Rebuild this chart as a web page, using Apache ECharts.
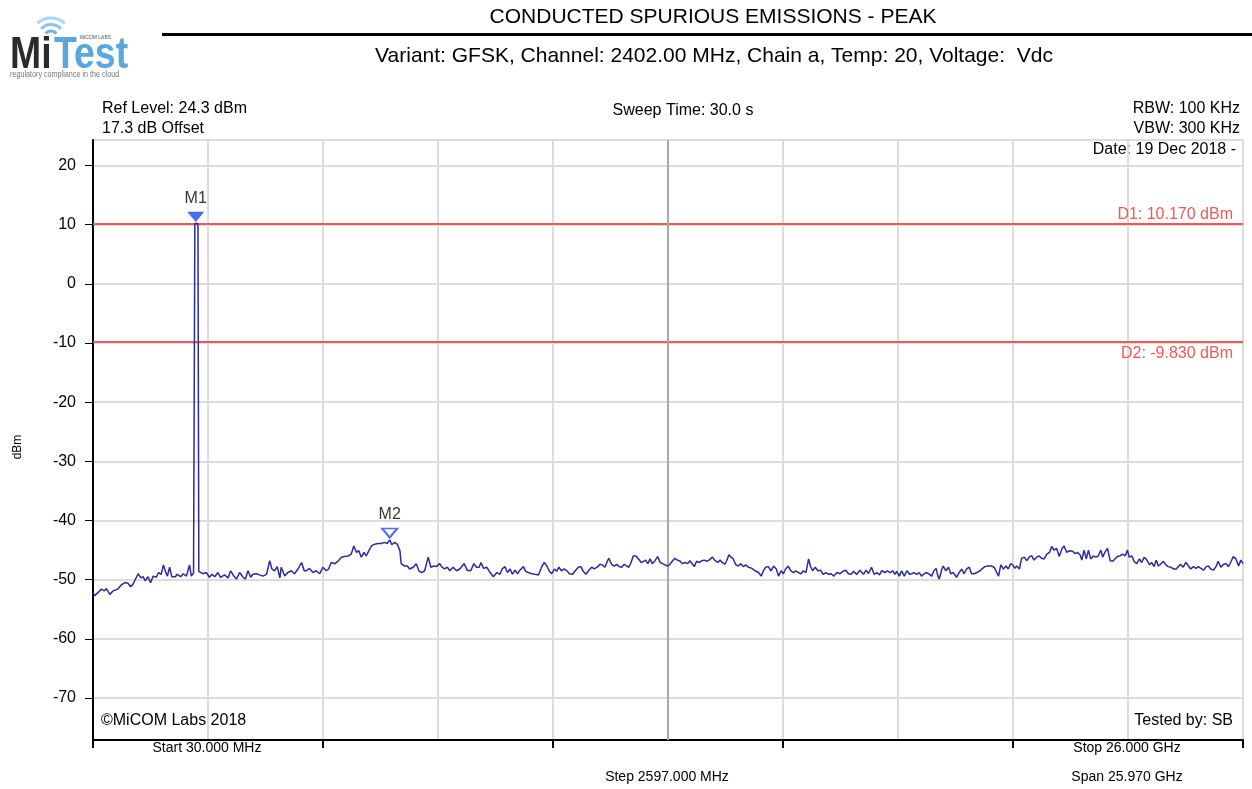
<!DOCTYPE html>
<html><head><meta charset="utf-8">
<script src="https://cdn.jsdelivr.net/npm/echarts@6/dist/echarts.min.js"></script>
<style>html,body{margin:0;padding:0;background:#fff}#chart{width:1252px;height:789px}</style>
</head><body><div id="chart"></div>
<script>
// ---------- texts ----------
const titleText = 'CONDUCTED SPURIOUS EMISSIONS - PEAK';
const subtitleText = 'Variant: GFSK, Channel: 2402.00 MHz, Chain a, Temp: 20, Voltage:  Vdc';
const infoLeft = ['Ref Level: 24.3 dBm', '17.3 dB Offset'];
const infoCenter = 'Sweep Time: 30.0 s';
const infoRight = ['RBW: 100 KHz', 'VBW: 300 KHz', 'Date: 19 Dec 2018 -'];
const footLeft = '\u00A9MiCOM Labs 2018';
const footRight = 'Tested by: SB';
const startLabel = 'Start 30.000 MHz';
const stopLabel = 'Stop 26.000 GHz';
const stepLabel = 'Step 2597.000 MHz';
const spanLabel = 'Span 25.970 GHz';
const yAxisName = 'dBm';

// ---------- axes ----------
const yTicks = [-70, -60, -50, -40, -30, -20, -10, 0, 10, 20];
const yMin = -77.1, yMax = 24.3;
const freqStart = 30, freqStop = 26000;
const divisionFreqs = [30, 2627, 5224, 7821, 10418, 13015, 15612, 18209, 20806, 23403, 26000];
const majorTickFreqs = [30, 5224, 10418, 15612, 20806, 26000];
const centerFreq = 13015;

// ---------- display lines & markers ----------
const displayLineNames = ['D1', 'D2'];
const displayLineLevels = [10.17, -9.83];
const markerNames = ['M1', 'M2'];
const markerFreqs = [2350, 6730];
const markerLevels = [10.17, -43.3];

// ---------- trace [MHz, dBm] ----------
const traceLow = [
[30,-52.2],[70,-52.7],[140,-52.2],[220,-51.6],[290,-51.9],[330,-51.5],[410,-52.5],[480,-51.9],[590,-51.6],[670,-50.9],
[750,-50.5],[820,-50.6],[880,-51.2],[930,-50.8],[1010,-49.6],[1050,-49.0],[1110,-49.7],[1160,-49.5],[1210,-50.2],[1270,-49.5],
[1330,-50.5],[1390,-49.4],[1460,-49.6],[1510,-48.8],[1570,-49.1],[1620,-47.5],[1660,-48.5],[1710,-49.4],[1760,-47.9],[1810,-49.5],
[1890,-49.5],[1930,-49.1],[2010,-49.5],[2070,-49.0],[2140,-49.4],[2210,-47.5],[2250,-49.4],[2300,-48.9],[2330,10.17],[2400,10.17],
[2420,-48.6],[2440,-48.8],[2510,-49.0],[2590,-48.8],[2660,-49.6],[2720,-49.1],[2780,-49.5],[2850,-48.8],[2910,-49.6],[3000,-49.2],
[3080,-49.7],[3140,-48.5],[3210,-49.4],[3270,-49.9],[3340,-48.8],[3420,-49.6],[3470,-49.9],[3530,-48.5],[3590,-49.6],[3640,-49.1],
[3720,-49.0],[3790,-49.2],[3870,-49.4],[3950,-49.1],[4020,-46.8],[4070,-48.2],[4130,-48.5],[4190,-47.8],[4250,-49.7],[4280,-47.9],
[4360,-49.4],[4430,-48.8],[4510,-48.5],[4580,-49.0],[4660,-48.2],[4740,-47.1],[4800,-48.5],[4850,-48.5],[4920,-48.1],[5000,-48.8],
[5070,-48.5],[5150,-49.0],[5220,-47.9],[5300,-48.5],[5350,-48.2],[5410,-47.1],[5490,-47.3],[5560,-46.9],[5640,-46.2],[5710,-46.1],
[5790,-46.0],[5860,-45.7],[5920,-44.3],[5980,-45.4],[6030,-45.1],[6090,-46.2],[6150,-45.4],[6200,-46.0],[6260,-45.1],[6320,-44.3],
[6390,-44.0],[6470,-43.9],[6540,-43.9],[6620,-43.7],[6670,-43.9],[6730,-43.3],[6780,-44.1],[6840,-43.7],[6900,-44.0],[6960,-45.1],
[6990,-47.3],[7070,-47.7],[7130,-47.7],[7180,-48.2],[7260,-47.9],[7330,-47.3],[7390,-48.5],[7450,-48.8],[7520,-48.5],[7600,-46.2],
[7660,-47.9],[7730,-47.7],[7780,-47.8],[7860,-47.3],[7910,-47.9],[7970,-48.2],[8030,-47.9],[8090,-48.5],[8160,-47.9],[8240,-48.5],
[8310,-48.2],[8410,-47.3],[8480,-48.4],[8560,-48.5],[8630,-47.3],[8690,-47.9]
];
const traceMid = [
[8750,-47.9],[8790,-47.1],[8850,-48.1],[8920,-47.9],[9000,-48.8],[9070,-49.5],[9150,-48.8],[9220,-49.1],[9270,-48.2],[9330,-47.8],
[9390,-48.8],[9450,-48.2],[9500,-49.1],[9560,-48.4],[9620,-49.0],[9670,-48.4],[9750,-47.8],[9800,-48.6],[9860,-48.8],[9940,-49.0],
[10010,-49.1],[10090,-49.2],[10160,-47.9],[10220,-47.1],[10280,-47.7],[10330,-48.5],[10390,-49.0],[10450,-48.2],[10500,-48.6],[10550,-47.9],
[10610,-48.5],[10670,-48.2],[10730,-48.5],[10790,-49.0],[10860,-49.1],[10920,-48.5],[10990,-47.9],[11050,-47.8],[11100,-48.6],[11160,-49.1],
[11220,-48.5],[11290,-47.9],[11350,-48.2],[11430,-47.8],[11480,-47.4],[11530,-47.5],[11590,-47.9],[11650,-46.8],[11680,-46.4],[11740,-47.4],
[11800,-47.7],[11860,-47.4],[11910,-47.8],[11970,-47.9],[12030,-47.4],[12080,-47.7],[12130,-47.9],[12180,-47.1],[12230,-46.0],[12290,-46.0],
[12350,-46.5],[12410,-47.1],[12460,-46.9],[12510,-46.7],[12560,-47.3],[12610,-46.5],[12660,-47.3],[12720,-46.8],[12780,-46.1],[12840,-47.1],
[12890,-47.3],[12950,-47.5],[13010,-47.7],[13060,-47.4],[13110,-46.9],[13170,-46.4],[13230,-46.7],[13290,-46.9],[13340,-47.3],[13400,-47.1],
[13460,-47.3],[13510,-46.8],[13570,-47.4],[13610,-47.8],[13660,-46.9],[13720,-47.1],[13780,-46.8],[13840,-46.7],[13890,-46.9],[13940,-46.7],
[14020,-46.2],[14080,-46.8],[14140,-47.1],[14190,-46.7],[14240,-47.1],[14300,-47.4],[14340,-46.8],[14390,-45.8],[14440,-46.2],[14490,-46.5],
[14540,-47.4],[14600,-47.7],[14660,-47.3],[14720,-47.8],[14770,-47.5],[14830,-47.9],[14910,-48.1],[14980,-48.5],[15060,-48.8],[15120,-49.4],
[15170,-48.5],[15220,-47.9],[15280,-47.8],[15340,-48.5],[15400,-47.7],[15460,-48.2],[15510,-49.4],[15570,-48.5],[15620,-49.0],[15670,-48.2],
[15730,-47.7],[15790,-48.5],[15850,-48.8],[15900,-48.5],[15960,-48.8],[16020,-49.0],[16070,-48.5],[16130,-48.8],[16190,-46.5],[16230,-47.7],
[16280,-48.5],[16340,-47.9],[16400,-48.5],[16460,-48.4],[16520,-49.1],[16580,-48.8],[16640,-49.1],[16700,-49.0],[16760,-49.4],[16830,-48.8],
[16900,-49.0],[16960,-48.6],[17030,-48.4],[17090,-49.0],[17150,-49.1],[17200,-48.6],[17280,-49.1],[17350,-48.4],[17430,-49.1]
];
const traceHigh = [
[17490,-48.4],[17540,-49.0],[17610,-47.9],[17670,-49.1],[17730,-48.8],[17790,-49.2],[17840,-48.5],[17920,-48.8],[17970,-48.5],[18030,-48.8],
[18090,-48.5],[18140,-49.1],[18180,-48.6],[18240,-49.4],[18290,-48.5],[18350,-49.4],[18410,-48.5],[18470,-49.1],[18520,-49.0],[18570,-48.8],
[18630,-49.1],[18690,-48.8],[18740,-49.4],[18800,-49.0],[18860,-48.8],[18920,-49.1],[18970,-49.4],[19020,-48.5],[19070,-48.1],[19110,-49.4],
[19140,-49.9],[19200,-48.2],[19230,-47.7],[19290,-48.5],[19350,-47.9],[19400,-49.0],[19460,-48.8],[19530,-49.6],[19590,-48.8],[19650,-48.2],
[19700,-49.0],[19760,-48.2],[19820,-47.9],[19870,-49.0],[19930,-49.0],[19990,-48.8],[20060,-48.5],[20120,-48.1],[20170,-47.8],[20250,-47.7],
[20320,-47.7],[20380,-47.9],[20420,-48.2],[20480,-49.4],[20530,-47.5],[20590,-48.2],[20650,-47.7],[20700,-48.2],[20750,-47.3],[20800,-47.5],
[20850,-48.1],[20890,-47.7],[20950,-48.2],[21000,-46.4],[21060,-46.2],[21120,-46.8],[21180,-46.1],[21230,-46.0],[21280,-46.7],[21340,-46.2],
[21400,-46.0],[21450,-46.4],[21510,-46.5],[21570,-45.7],[21630,-45.4],[21680,-44.4],[21730,-45.0],[21790,-44.7],[21850,-46.1],[21910,-44.8],
[21960,-44.3],[22020,-45.4],[22080,-45.1],[22150,-45.2],[22210,-45.6],[22260,-45.4],[22320,-45.8],[22360,-46.7],[22410,-45.0],[22460,-46.5],
[22510,-45.0],[22560,-46.5],[22620,-46.0],[22680,-46.2],[22730,-46.0],[22790,-45.0],[22830,-46.2],[22880,-45.4],[22940,-44.7],[23000,-46.8],
[23060,-46.9],[23110,-46.5],[23160,-46.1],[23220,-46.0],[23280,-45.7],[23340,-46.0],[23390,-45.0],[23430,-46.2],[23490,-46.0],[23540,-46.9],
[23600,-47.3],[23660,-46.5],[23710,-47.1],[23770,-46.2],[23830,-46.7],[23890,-47.5],[23940,-47.1],[23990,-47.8],[24040,-46.7],[24090,-47.7],
[24140,-47.4],[24200,-46.9],[24260,-47.5],[24310,-47.8],[24370,-47.9],[24430,-48.2],[24490,-48.2],[24540,-47.8],[24590,-47.4],[24650,-47.9],
[24710,-47.1],[24770,-47.7],[24820,-48.2],[24880,-47.8],[24940,-48.1],[24990,-47.8],[25050,-48.1],[25110,-48.4],[25170,-47.8],[25220,-47.7],
[25270,-48.2],[25330,-48.4],[25390,-47.8],[25440,-46.9],[25500,-47.9],[25560,-47.4],[25620,-47.3],[25670,-47.8],[25720,-47.1],[25780,-46.1],
[25840,-46.5],[25900,-47.7],[25950,-46.7],[26000,-47.3]
];

// ---------- style constants ----------
const FONT = '"Liberation Sans", Arial, Helvetica, sans-serif';
const GRID_COLOR = '#dcdcdc';
const TRACE_COLOR = '#2b2b9e';
const LIMIT_COLOR = '#ee5a5a';
const MARKER_COLOR = '#1f4fef';

const trace = traceLow.concat(traceMid, traceHigh);

function txt(x, y, text, size, align, opts) {
  return Object.assign({
    type: 'text', x: x, y: y, silent: true,
    style: Object.assign({
      text: text, fill: '#000', fontSize: size, fontFamily: FONT,
      align: align || 'left', verticalAlign: 'middle'
    }, (opts && opts.style) || {})
  }, opts && opts.el ? opts.el : {});
}

const graphics = [
  // logo
  { type: 'arc', silent: true, shape: { cx: 51, cy: 38, r: 7, startAngle: -Math.PI * 0.78, endAngle: -Math.PI * 0.22, clockwise: true },
    style: { stroke: '#6ab1e6', lineWidth: 3, fill: null } },
  { type: 'arc', silent: true, shape: { cx: 51, cy: 38, r: 13.5, startAngle: -Math.PI * 0.76, endAngle: -Math.PI * 0.24, clockwise: true },
    style: { stroke: '#8cc4ec', lineWidth: 3, fill: null } },
  { type: 'arc', silent: true, shape: { cx: 51, cy: 38, r: 20, startAngle: -Math.PI * 0.74, endAngle: -Math.PI * 0.26, clockwise: true },
    style: { stroke: '#acd4f1', lineWidth: 3, fill: null } },
  txt(10, 56, 'Mi', 44, 'left', { style: { fill: '#2b2b2b', fontWeight: 'bold' }, el: { scaleX: 0.85 } }),
  txt(54, 56, 'Test', 44, 'left', { style: { fill: '#5aa6df', fontWeight: 'bold' }, el: { scaleX: 0.85 } }),
  txt(80, 38, 'MiCOM LABS', 5, 'left', { style: { fill: '#555' } }),
  txt(10, 75, 'regulatory compliance in the cloud', 9, 'left', { style: { fill: '#777' }, el: { scaleX: 0.8 } }),
  // header
  { type: 'rect', silent: true, shape: { x: 162, y: 33, width: 1090, height: 3 }, style: { fill: '#000' } },
  txt(713, 17, titleText, 21, 'center'),
  txt(714, 56, subtitleText, 21, 'center'),
  // info
  txt(102, 109, infoLeft[0], 16),
  txt(102, 129, infoLeft[1], 16),
  txt(683, 111, infoCenter, 16, 'center'),
  txt(1240, 109, infoRight[0], 16, 'right'),
  txt(1240, 129, infoRight[1], 16, 'right'),
  txt(1236, 150, infoRight[2], 16, 'right'),
  txt(101, 721, footLeft, 16),
  txt(1233, 721, footRight, 16, 'right'),
  txt(207, 748, startLabel, 14, 'center'),
  txt(1127, 748, stopLabel, 14, 'center'),
  txt(667, 777, stepLabel, 14, 'center'),
  txt(1127, 777, spanLabel, 14, 'center'),
  txt(18, 447, yAxisName, 12, 'center', { el: { rotation: Math.PI / 2 } })
];

const markLineData = displayLineLevels.map((v, i) => ({
  yAxis: v,
  lineStyle: { color: LIMIT_COLOR, width: 2, type: 'solid' },
  label: {
    show: true, position: i === 0 ? 'insideEndTop' : 'insideEndBottom', distance: i === 0 ? [10, 1] : [10, 4],
    formatter: displayLineNames[i] + ': ' + v.toFixed(3) + ' dBm',
    color: LIMIT_COLOR, fontSize: 16, fontFamily: FONT
  }
}));
markLineData.push({
  xAxis: centerFreq,
  lineStyle: { color: '#a9a9a9', width: 2, type: 'solid' },
  label: { show: false }
});

const markerData = markerNames.map((n, i) => ({
  name: n,
  value: [markerFreqs[i], markerLevels[i]],
  itemStyle: i === 0
    ? { color: MARKER_COLOR, borderColor: MARKER_COLOR, borderWidth: 1 }
    : { color: '#ffffff', borderColor: MARKER_COLOR, borderWidth: 2 }
}));

const chart = echarts.init(document.getElementById('chart'), null, { renderer: 'canvas' });
chart.setOption({
  animation: false,
  backgroundColor: '#ffffff',
  grid: { left: 93, right: 9, top: 140, bottom: 49, containLabel: false, outerBoundsMode: 'none',
          show: true, borderColor: GRID_COLOR, borderWidth: 2 },
  xAxis: [
    { type: 'value', min: freqStart, max: freqStop, position: 'bottom',
      axisLine: { show: false }, axisLabel: { show: false },
      axisTick: { show: false, customValues: divisionFreqs },
      splitLine: { show: true, lineStyle: { color: GRID_COLOR, width: 2 } } },
    { type: 'value', min: freqStart, max: freqStop, position: 'bottom',
      axisLine: { show: true, onZero: false, lineStyle: { color: '#000', width: 2 } },
      axisLabel: { show: false },
      axisTick: { show: true, inside: false, length: 8, customValues: majorTickFreqs, lineStyle: { color: '#000', width: 2 } },
      splitLine: { show: false } }
  ],
  yAxis: [
    { type: 'value', min: yMin, max: yMax,
      axisLine: { show: true, onZero: false, lineStyle: { color: '#000', width: 2 } },
      axisTick: { show: true, length: 8, customValues: yTicks, lineStyle: { color: '#000', width: 1 } },
      axisLabel: { show: true, customValues: yTicks, color: '#000', fontSize: 16, fontFamily: FONT, margin: 17 },
      splitLine: { show: true, lineStyle: { color: GRID_COLOR, width: 2 } } }
  ],
  series: [
    { type: 'line', name: 'trace', xAxisIndex: 0, yAxisIndex: 0, data: trace,
      showSymbol: false, symbol: 'none', silent: true, z: 3,
      lineStyle: { color: TRACE_COLOR, width: 1.5 },
      markLine: { silent: true, symbol: 'none', data: markLineData, z: 2 } },
    { type: 'scatter', name: 'markers', xAxisIndex: 0, yAxisIndex: 0, data: markerData, z: 5, silent: true,
      symbol: 'path://M0 0L14 0L7 9Z', symbolSize: [15, 9], symbolOffset: [0, -7],
      label: { show: true, position: 'top', distance: 5, formatter: p => p.name,
               color: '#000', fontSize: 16, fontFamily: FONT } }
  ],
  graphic: { elements: graphics }
});
</script>
</body></html>
